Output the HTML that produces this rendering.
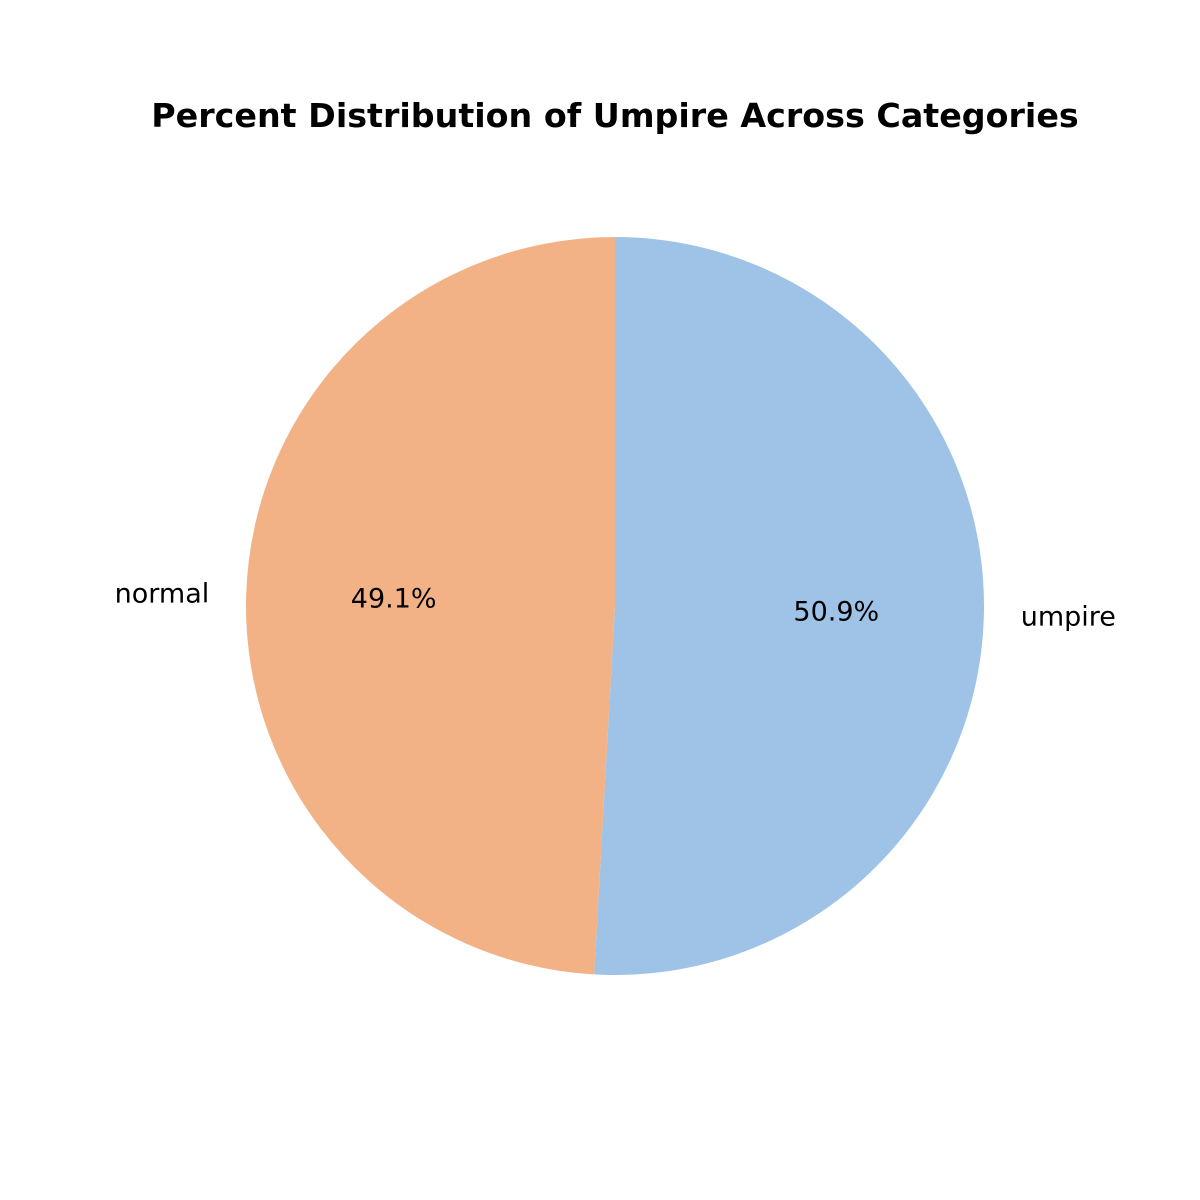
<!DOCTYPE html>
<html><head><meta charset="utf-8"><style>
html,body{margin:0;padding:0;background:#fff;}
svg{display:block;font-family:"DejaVu Sans","Liberation Sans",sans-serif;}
</style></head><body>
<svg id="chart" width="1200" height="1200" viewBox="0 0 1200 1200">
<text x="615" y="127" text-anchor="middle" font-size="33.3" font-weight="bold">Percent Distribution of Umpire Across Categories</text>
<g id="slices"></g>
</svg>
<script>
const categories = ["umpire", "normal"];
const values = [50.9, 49.1];
const pctLabels = ["50.9%", "49.1%"];
const colors = ["#9ec3e6", "#f3b286"];

const cx = 615, cy = 606, r = 369;
const NS = "http://www.w3.org/2000/svg";
const g = document.getElementById("slices");
const total = values.reduce((a, b) => a + b, 0);
function pt(angDeg, rad) {
  const a = angDeg * Math.PI / 180;
  return [cx + rad * Math.sin(a), cy - rad * Math.cos(a)];
}
let start = 0;
values.forEach((v, i) => {
  const sweep = v / total * 360;
  const end = start + sweep;
  const [x1, y1] = pt(start, r), [x2, y2] = pt(end, r);
  const path = document.createElementNS(NS, "path");
  path.setAttribute("d", `M${cx},${cy} L${x1},${y1} A${r},${r} 0 ${sweep > 180 ? 1 : 0} 1 ${x2},${y2} Z`);
  path.setAttribute("fill", colors[i]);
  
  
  g.appendChild(path);
  const mid = start + sweep / 2;
  const [lx, ly] = pt(mid, r * 1.1);
  const lab = document.createElementNS(NS, "text");
  lab.setAttribute("x", lx);
  lab.setAttribute("y", ly + 8);
  lab.setAttribute("font-size", "27");
  lab.setAttribute("text-anchor", lx > cx ? "start" : "end");
  lab.textContent = categories[i];
  
  
  g.appendChild(lab);
  const [px, py] = pt(mid, r * 0.6);
  const pl = document.createElementNS(NS, "text");
  pl.setAttribute("x", px);
  pl.setAttribute("y", py + 8);
  pl.setAttribute("font-size", "27");
  pl.setAttribute("text-anchor", "middle");
  pl.textContent = pctLabels[i];
  
  
  g.appendChild(pl);
  start = end;
});
</script>
</body></html>
